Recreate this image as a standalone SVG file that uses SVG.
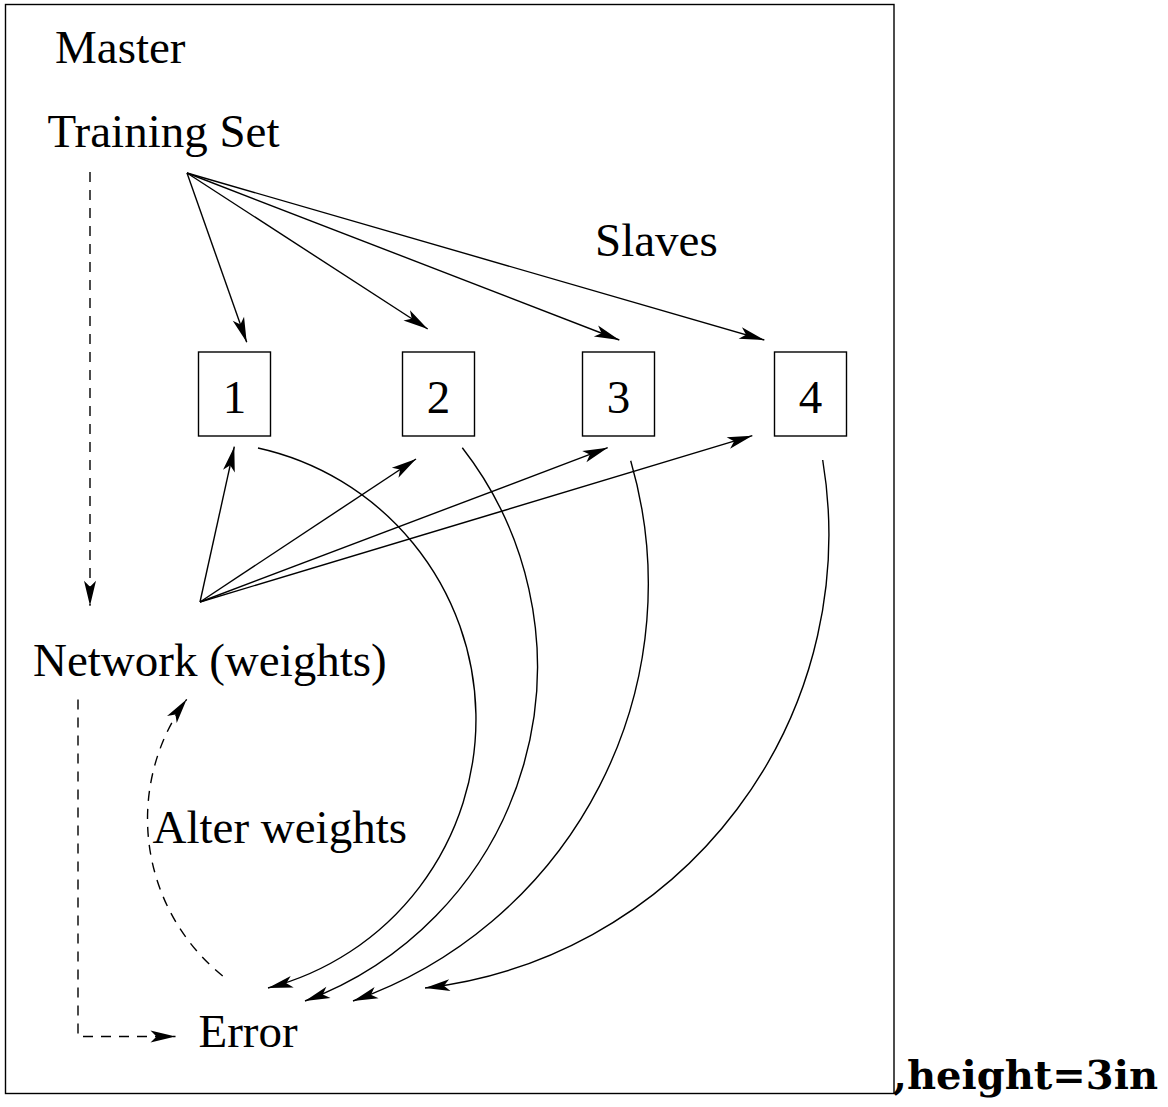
<svg xmlns="http://www.w3.org/2000/svg" width="1168" height="1107" viewBox="0 0 1168 1107">
<style>
text{font-family:"Liberation Serif","Times New Roman",serif;font-size:47px;fill:#000}
.box{fill:#fff;stroke:#000;stroke-width:1.4}
.ln{fill:none;stroke:#000;stroke-width:1.4}
.ds{fill:none;stroke:#000;stroke-width:1.4;stroke-dasharray:10 8}
.cap{font-family:"DejaVu Serif","Liberation Serif",serif;font-weight:bold;font-size:39px}
</style>
<defs>
<marker id="ah" markerUnits="userSpaceOnUse" markerWidth="30" markerHeight="16" viewBox="-27 -8 29 16" refX="0" refY="0" orient="auto">
<path d="M0,0 L-25,-6 L-19,0 L-25,6 Z" fill="#000"/>
</marker>
</defs>
<rect id="frame" x="5.5" y="4.5" width="888.5" height="1089" fill="none" stroke="#000" stroke-width="1.4"/>
<g id="master"><text x="55" y="63">Master</text></g>
<g id="training-set"><text x="47.5" y="147">Training Set</text></g>
<g id="slaves"><text x="595" y="256">Slaves</text></g>
<g id="slave1"><rect class="box" x="198.5" y="352" width="72" height="84"/><text x="234.5" y="413" text-anchor="middle">1</text></g>
<g id="slave2"><rect class="box" x="402.5" y="352" width="72" height="84"/><text x="438.5" y="413" text-anchor="middle">2</text></g>
<g id="slave3"><rect class="box" x="582.5" y="352" width="72" height="84"/><text x="618.5" y="413" text-anchor="middle">3</text></g>
<g id="slave4"><rect class="box" x="774.5" y="352" width="72" height="84"/><text x="810.5" y="413" text-anchor="middle">4</text></g>
<g id="network"><text x="33" y="676">Network (weights)</text></g>
<g id="alter-weights"><text x="152.5" y="843">Alter weights</text></g>
<g id="error"><text x="198.5" y="1047">Error</text></g>
<g id="connectors">
<path class="ln" marker-end="url(#ah)" d="M187,173 L246.7,342.3"/>
<path class="ln" marker-end="url(#ah)" d="M187,173 L427.7,329"/>
<path class="ln" marker-end="url(#ah)" d="M187,173 L619.3,340"/>
<path class="ln" marker-end="url(#ah)" d="M187,173 L764.3,340"/>
<path class="ln" marker-end="url(#ah)" d="M200,602 L234.3,446.7"/>
<path class="ln" marker-end="url(#ah)" d="M200,602 L416,459"/>
<path class="ln" marker-end="url(#ah)" d="M200,602 L607.7,447.7"/>
<path class="ln" marker-end="url(#ah)" d="M200,602 L752.3,435.7"/>
<path class="ln" marker-end="url(#ah)" d="M258,448 A277.7,277.7 0 0 1 268,988"/>
<path class="ln" marker-end="url(#ah)" d="M462.3,447.7 A356.7,356.7 0 0 1 305,1001"/>
<path class="ln" marker-end="url(#ah)" d="M630.7,460.7 A441.8,441.8 0 0 1 353,1001"/>
<path class="ln" marker-end="url(#ah)" d="M822.7,460 A456.3,456.3 0 0 1 425,988"/>
<path class="ds" marker-end="url(#ah)" d="M90,172 L90,605.7"/>
<path class="ds" marker-end="url(#ah)" d="M78,699.5 L78,1036.5 L175.5,1036.5"/>
<path class="ds" marker-end="url(#ah)" d="M222.7,976 A201.9,201.9 0 0 1 186.7,699.3"/>
</g>
<g id="caption"><text class="cap" x="893" y="1089" textLength="265" lengthAdjust="spacingAndGlyphs">,height=3in</text></g>
</svg>
